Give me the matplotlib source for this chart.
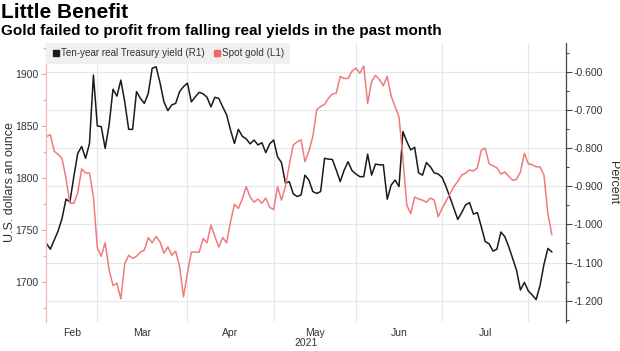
import numpy as np
import pandas as pd
import matplotlib
matplotlib.use('Agg')
import matplotlib.pyplot as plt
import matplotlib.transforms as mtransforms
from matplotlib.lines import Line2D
from matplotlib.ticker import MultipleLocator, FormatStrFormatter

plt.rcParams['font.family'] = ['Liberation Sans', 'DejaVu Sans']
plt.rcParams['axes.unicode_minus'] = False

# trading days shown on the chart (weekdays, no gaps)
dates = pd.bdate_range('2021-02-10', '2021-08-10')

# ten-year real Treasury yield, percent (right axis)
real_yield = [
    -1.050, -1.065, -1.041, -1.017, -0.984, -0.934, -0.941, -0.875, -0.814, -0.796,
    -0.827, -0.788, -0.609, -0.742, -0.744, -0.801, -0.740, -0.646, -0.664, -0.622,
    -0.679, -0.751, -0.751, -0.652, -0.670, -0.683, -0.657, -0.591, -0.587, -0.629,
    -0.679, -0.702, -0.687, -0.683, -0.652, -0.639, -0.630, -0.679, -0.666, -0.654,
    -0.658, -0.667, -0.692, -0.667, -0.670, -0.692, -0.713, -0.753, -0.788, -0.751,
    -0.769, -0.776, -0.789, -0.779, -0.792, -0.786, -0.812, -0.789, -0.779, -0.823,
    -0.838, -0.892, -0.888, -0.920, -0.927, -0.923, -0.871, -0.884, -0.914, -0.919,
    -0.914, -0.827, -0.829, -0.830, -0.858, -0.888, -0.858, -0.836, -0.859, -0.868,
    -0.875, -0.875, -0.816, -0.871, -0.842, -0.844, -0.844, -0.934, -0.897, -0.884,
    -0.901, -0.757, -0.783, -0.805, -0.798, -0.865, -0.871, -0.838, -0.849, -0.865,
    -0.868, -0.877, -0.901, -0.929, -0.958, -0.987, -0.969, -0.949, -0.943, -0.973,
    -0.969, -1.006, -1.045, -1.051, -1.070, -1.065, -1.020, -1.032, -1.058, -1.089,
    -1.120, -1.172, -1.152, -1.174, -1.185, -1.197, -1.160, -1.105, -1.063, -1.072,
]

# spot gold, USD per ounce (left axis)
gold = [
    1840, 1842, 1826, 1823, 1819, 1800, 1776, 1776, 1786, 1809,
    1805, 1805, 1782, 1733, 1725, 1738, 1712, 1697, 1699, 1684,
    1718, 1726, 1723, 1725, 1729, 1731, 1743, 1738, 1744, 1739,
    1728, 1734, 1726, 1730, 1715, 1686, 1709, 1729, 1729, 1729,
    1742, 1738, 1755, 1744, 1734, 1743, 1738, 1758, 1775, 1771,
    1780, 1792, 1782, 1777, 1780, 1776, 1781, 1772, 1770, 1792,
    1779, 1792, 1813, 1832, 1835, 1837, 1816, 1826, 1840, 1866,
    1869, 1871, 1877, 1881, 1882, 1898, 1896, 1896, 1903, 1906,
    1901, 1908, 1872, 1893, 1899, 1895, 1889, 1898, 1879, 1869,
    1859, 1819, 1774, 1766, 1782, 1780, 1779, 1777, 1781, 1779,
    1763, 1771, 1778, 1785, 1792, 1797, 1803, 1805, 1808, 1807,
    1810, 1827, 1829, 1814, 1812, 1810, 1804, 1806, 1802, 1798,
    1799, 1806, 1824, 1814, 1813, 1811, 1811, 1803, 1766, 1746,
]

month_labels = ['Feb', 'Mar', 'Apr', 'May', 'Jun', 'Jul']
yield_ticks = [-1.2, -1.1, -1.0, -0.9, -0.8, -0.7, -0.6]
gold_ticks = [1700, 1750, 1800, 1850, 1900]

x = np.arange(len(dates))
month_starts = [i for i in range(1, len(dates)) if dates[i].month != dates[i - 1].month]
edges = [0] + month_starts
label_pos = [(edges[k] + edges[k + 1]) / 2 for k in range(len(month_labels))]

black = '#1a1a1a'
red = '#ef7b7b'
grid_c = '#e6e6ee'
text_c = '#333333'

fig = plt.figure(figsize=(6.2, 3.51), dpi=100)
ax = fig.add_axes([46.4 / 620, 1 - 322 / 351, (565.5 - 46.4) / 620, (322 - 43) / 351])
ax2 = ax.twinx()

# yield on the base axes (right side), gold on the twin (left side)
ax.plot(x, real_yield, color=black, lw=1.1)
ax.set_xlim(0, 132.5)
ax.set_ylim(-1.2558, -0.5248)
ax.yaxis.set_ticks_position('right')
ax.set_yticks(yield_ticks)
ax.yaxis.set_minor_locator(MultipleLocator(0.05))
ax.yaxis.set_major_formatter(FormatStrFormatter('%.3f'))
ax.grid(axis='y', which='major', color=grid_c, lw=0.8)
for m in month_starts:
    ax.axvline(m, color=grid_c, lw=0.8, zorder=0)
ax.set_xticks(label_pos)
ax.set_xticklabels(month_labels)
ax.tick_params(axis='x', length=0, labelsize=7.5, colors=text_c, pad=4)
ax.tick_params(axis='y', which='major', length=4, width=0.8, color='#444444',
               labelcolor=text_c, labelsize=7.5, pad=2)
ax.tick_params(axis='y', which='minor', length=2.5, width=0.8, color='#444444')
for s in ['top', 'bottom', 'left']:
    ax.spines[s].set_visible(False)
ax.spines['right'].set_color('#444444')
ax.spines['right'].set_linewidth(0.9)

trans = mtransforms.blended_transform_factory(ax.transData, ax.transAxes)
ax.text(66.3, -0.076, '2021', transform=trans, ha='center', va='center',
        fontsize=7.5, color=text_c)

ax2.plot(x, gold, color=red, lw=1.1)
ax2.set_ylim(1661.8, 1930.1)
ax2.yaxis.set_ticks_position('left')
ax2.set_yticks(gold_ticks)
ax2.yaxis.set_minor_locator(MultipleLocator(25))
ax2.tick_params(axis='y', which='major', length=3.5, width=0.8, color='#f3a5a5',
                labelcolor=text_c, labelsize=7.5, pad=2)
ax2.tick_params(axis='y', which='minor', length=2, width=0.8, color='#f3a5a5')
for s in ['top', 'bottom', 'right']:
    ax2.spines[s].set_visible(False)
ax2.spines['left'].set_color('#f5b5b5')
ax2.spines['left'].set_linewidth(0.9)

handles = [Line2D([], [], marker='s', ls='none', color=black, markersize=4.5),
           Line2D([], [], marker='s', ls='none', color='#f06868', markersize=4.5)]
leg = ax2.legend(handles, ['Ten-year real Treasury yield (R1)', 'Spot gold (L1)'],
                 loc='upper left', ncol=2, fancybox=False, borderaxespad=0,
                 fontsize=7.1, handletextpad=0.1, columnspacing=0.9,
                 handlelength=0.8, borderpad=0.55)
leg.get_frame().set_facecolor('#f0f0f3')
leg.get_frame().set_edgecolor('none')
leg.get_frame().set_alpha(1)
for t in leg.get_texts():
    t.set_color(text_c)

fig.text(0.002, 1 - 12 / 351, 'Little Benefit', fontsize=15, fontweight='bold',
         va='center', ha='left', color='black')
fig.text(0.002, 1 - 31 / 351, 'Gold failed to profit from falling real yields in the past month',
         fontsize=11, fontweight='bold', va='center', ha='left', color='black')
fig.text(10 / 620, 1 - 182.5 / 351, 'U.S. dollars an ounce', rotation=90,
         ha='center', va='center', fontsize=9, color=text_c)
fig.text(613 / 620, 1 - 182.5 / 351, 'Percent', rotation=270,
         ha='center', va='center', fontsize=9, color=text_c)

fig.savefig('out.png', dpi=100)
